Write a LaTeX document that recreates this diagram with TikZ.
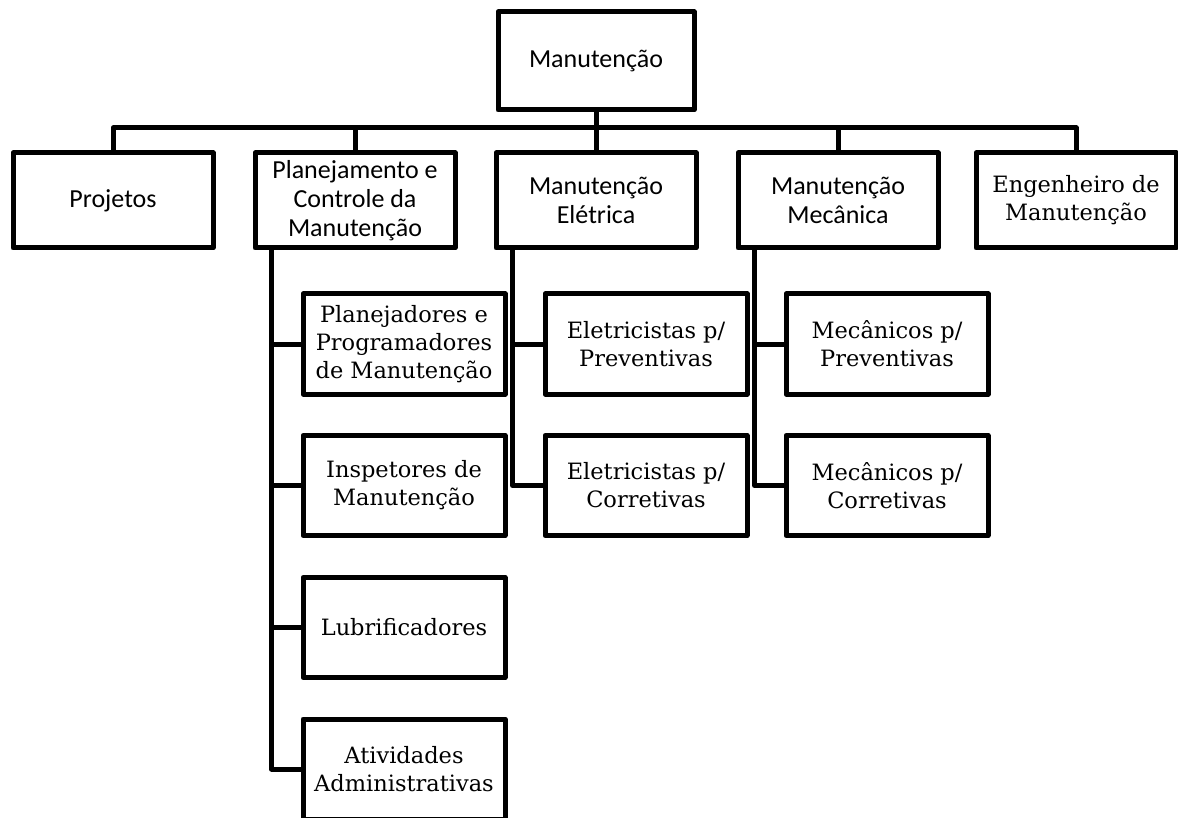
\documentclass[tikz,border=0pt]{standalone}
\usepackage{fontspec}
\setmainfont{DejaVu Serif}
\newfontfamily\calibfont{Carlito}
\begin{document}
\begin{tikzpicture}[x=1pt,y=-1pt,
  line width=5pt, line join=round,
  unit/.style={draw, rectangle, inner sep=0pt, align=center},
  headbox/.style={unit, minimum width=196pt, minimum height=98pt,
    font=\calibfont\fontsize{26}{29}\selectfont},
  deptbox/.style={unit, minimum width=200pt, minimum height=95pt,
    font=\calibfont\fontsize{26}{29}\selectfont},
  deptserif/.style={unit, minimum width=200pt, minimum height=95pt,
    font=\fontsize{22.5}{28}\selectfont},
  teambox/.style={unit, minimum width=202pt, minimum height=100pt,
    font=\fontsize{22.5}{28}\selectfont}]
\useasboundingbox (0,0) rectangle (1178,818);

% top of the chart
\node[headbox] (root) at (596,61) {Manutenção};

% departments
\node[deptbox] (proj) at (113,200.5) {Projetos};
\node[deptbox] (plan) at (355,200.5) {Planejamento e\\Controle da\\Manutenção};
\node[deptbox] (elet) at (596,200.5) {Manutenção\\Elétrica};
\node[deptbox] (mec)  at (838,200.5) {Manutenção\\Mecânica};
\node[deptserif] (eng) at (1076,200.5) {Engenheiro de\\Manutenção};

% teams under planning
\node[teambox] (pp)  at (404,344) {Planejadores e\\Programadores\\de Manutenção};
\node[teambox] (ins) at (404,485.5) {Inspetores de\\Manutenção};
\node[teambox] (lub) at (404,627.5) {Lubrificadores};
\node[teambox] (adm) at (404,769) {Atividades\\Administrativas};

% teams under electrical
\node[teambox] (elp) at (646,344) {Eletricistas p/\\Preventivas};
\node[teambox] (elc) at (646,485.5) {Eletricistas p/\\Corretivas};

% teams under mechanical
\node[teambox] (mep) at (887,344) {Mecânicos p/\\Preventivas};
\node[teambox] (mec2) at (887,485.5) {Mecânicos p/\\Corretivas};

% bus level
\coordinate (bus) at (0,128);

% root to departments
\foreach \d in {proj,plan,elet,mec,eng}
  \draw (root.south) -- (root.south |- bus) -| (\d.north);

% departments to teams
\foreach \t in {pp,ins,lub,adm}
  \draw ([xshift=19pt]plan.south west) |- (\t.west);
\foreach \t in {elp,elc}
  \draw ([xshift=19pt]elet.south west) |- (\t.west);
\foreach \t in {mep,mec2}
  \draw ([xshift=19pt]mec.south west) |- (\t.west);
\end{tikzpicture}
\end{document}
